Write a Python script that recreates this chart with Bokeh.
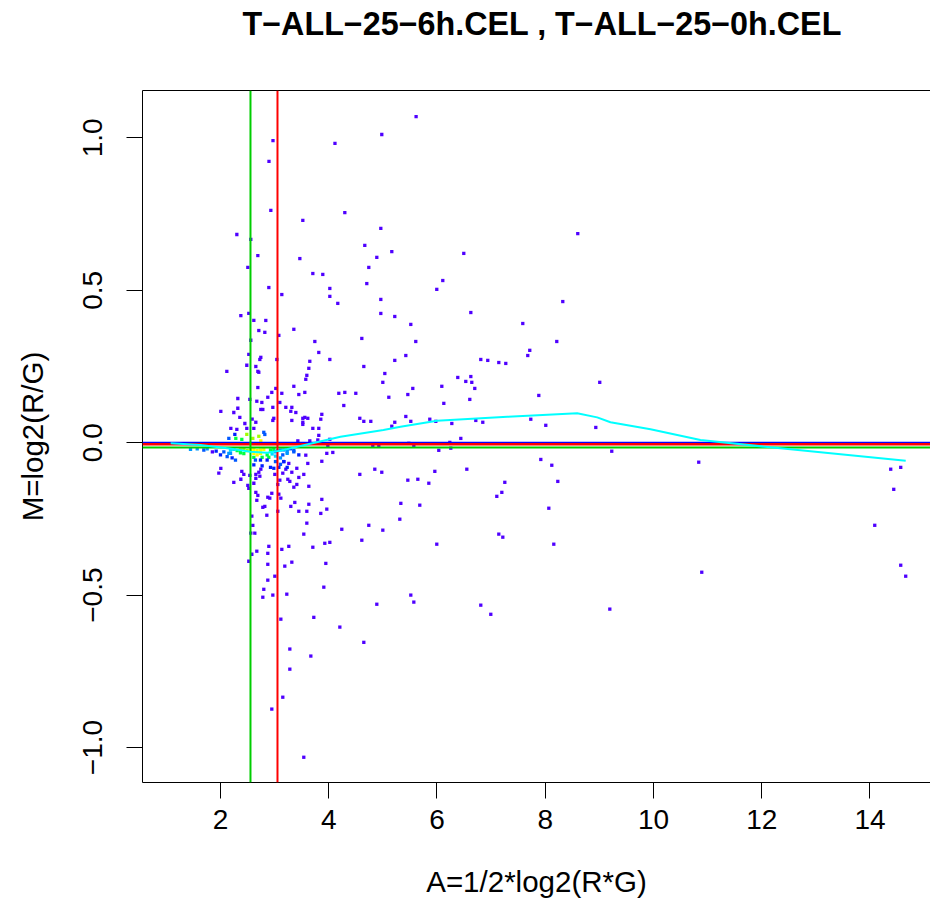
from bokeh.plotting import figure
from bokeh.models import Range1d, FixedTicker, LinearAxis, Span, ColumnDataSource, CustomJSTickFormatter, Title
from bokeh.embed import file_html
from bokeh.resources import INLINE

# ---------------- data ----------------
title_text = "T\u2212ALL\u221225\u22126h.CEL , T\u2212ALL\u221225\u22120h.CEL"
x_label = "A=1/2*log2(R*G)"
y_label = "M=log2(R/G)"
x_ticks = [2, 4, 6, 8, 10, 12, 14]
y_ticks = [-1.0, -0.5, 0.0, 0.5, 1.0]

# sparse points (lowest density)
A_sparse = [
    5.614, 4.98, 2.97, 4.115, 2.896,
    2.93, 4.297, 3.521, 2.302, 2.56, 4.962, 4.666, 5.165, 2.69, 3.466, 4.888, 2.505, 4.74, 3.706, 3.89,
    6.107, 5.996, 4.703, 2.893, 4.02, 3.133, 4.02, 4.962, 4.167, 2.376, 2.523, 4.962, 5.22, 2.616, 2.837,
    5.516, 2.708, 2.819, 3.355, 3.078, 4.611, 2.56, 5.608, 3.743, 3.816, 2.523, 2.745, 2.727, 3.041, 5.424,
    3.65, 4.02, 5.22, 2.486, 2.653, 4.648, 2.117, 2.69, 2.708, 3.632, 5.036, 3.595, 3.576, 4.999, 2.69,
    3.355, 3.022, 6.089, 2.948, 3.133, 3.558, 3.447, 4.186, 4.297, 4.5, 5.553, 5.461, 2.32, 2.542, 2.874,
    2.671, 2.764, 3.096, 5.11, 6.126, 2.32, 2.745, 2.782, 2.967, 3.207, 3.318, 4.278, 2.006, 2.246, 3.299,
    3.392, 2.357, 2.585, 2.985, 2.967, 3.318, 3.521, 3.558, 3.613, 3.853, 3.872, 4.574, 4.648, 4.777, 5.424,
    5.516, 5.867, 5.978, 2.45, 2.653, 3.521, 3.521, 5.22, 2.191, 2.302, 2.486, 2.616, 3.706, 3.816, 5.165,
    8.601, 6.495, 6.625, 8.324, 7.585, 8.213, 7.714, 7.677, 6.809, 6.938, 7.142, 7.271, 6.384, 6.625, 6.532,
    6.643, 6.698, 9.007, 7.881, 6.606, 6.717, 6.846, 6.274, 7.733, 8.01, 8.934,
    6.237, 6.255, 6.44, 9.229, 7.918, 8.121, 10.836, 6.551, 7.253, 8.232, 7.198, 7.105, 8.066, 7.142, 7.216,
    8.158, 6.809, 6.994, 9.193,
    10.892, 14.383, 14.568, 14.439, 14.088, 14.568, 14.66,
    3.816, 4.02, 3.65, 3.798, 3.429, 3.983, 4.814, 4.925, 5.479, 5.572, 6.033,
    1.969, 2.006, 2.246, 2.394, 2.431, 2.376, 2.505, 2.523, 2.542, 2.653, 2.616, 2.653, 2.727, 2.708, 2.745,
    3.004, 3.151, 3.096, 3.244, 3.281, 3.318, 3.207, 3.41, 3.539, 3.447, 3.632, 3.355, 3.41, 3.059, 3.613,
    3.576, 3.872, 3.964, 4.075, 4.574, 4.851, 4.98, 5.461, 5.646, 5.849, 5.96,
    2.653, 2.69, 2.671, 2.782, 2.819, 2.874, 2.911, 2.948, 3.078, 3.115, 3.373, 3.299, 3.447, 3.595, 3.632,
    3.059, 2.856, 2.579, 2.597, 2.56, 2.634, 3.539, 3.595, 3.872, 3.964, 3.853, 4.241, 4.74, 4.999, 4.611,
    4.02, 3.927, 3.706, 3.262, 3.133, 2.893, 2.671, 2.579, 2.874, 2.523, 2.874, 3.188, 3.318, 3.946, 5.313,
    5.332, 5.682, 5.996, 3.004, 2.874, 2.8, 2.967, 2.782, 3.225, 3.909, 5.516, 5.572, 4.888, 3.724, 4.205,
    4.648, 3.115, 3.281, 3.669, 3.281, 3.151, 2.948, 3.539,
    3.262, 3.17, 1.85,
]
M_sparse = [
    1.070, 1.011, 0.991, 0.982, 0.923,
    0.762, 0.755, 0.729, 0.683, 0.667, 0.703, 0.647, 0.627, 0.614, 0.604, 0.608, 0.575, 0.575, 0.555, 0.552,
    0.532, 0.503, 0.522, 0.509, 0.506, 0.486, 0.48, 0.47, 0.457, 0.417, 0.424, 0.424, 0.414, 0.401, 0.401,
    0.388, 0.368, 0.362, 0.372, 0.352, 0.342, 0.336, 0.332, 0.332, 0.296, 0.29, 0.28, 0.273, 0.273, 0.286,
    0.267, 0.273, 0.27, 0.254, 0.25, 0.25, 0.234, 0.234, 0.231, 0.244, 0.227, 0.221, 0.208, 0.198, 0.181,
    0.185, 0.178, 0.185, 0.165, 0.162, 0.165, 0.158, 0.162, 0.165, 0.162, 0.178, 0.158, 0.145, 0.142, 0.149,
    0.136, 0.132, 0.132, 0.149, 0.129, 0.113, 0.109, 0.109, 0.116, 0.116, 0.116, 0.122, 0.103, 0.099, 0.103,
    0.099, 0.083, 0.077, 0.08, 0.073, 0.073, 0.08, 0.083, 0.08, 0.077, 0.093, 0.08, 0.07, 0.07, 0.086,
    0.07, 0.077, 0.07, 0.063, 0.067, 0.067, 0.06, 0.067, 0.047, 0.044, 0.047, 0.047, 0.047, 0.047, 0.054,
    0.686, 0.621, 0.427, 0.463, 0.391, 0.332, 0.303, 0.286, 0.273, 0.27, 0.263, 0.26, 0.214, 0.217, 0.201,
    0.198, 0.178, 0.198, 0.155, 0.142, 0.073, 0.067, 0.063, 0.077, 0.057, 0.05,
    0.001, -0.018, 0.014, -0.028, -0.055, -0.074, -0.064, -0.087, -0.13, -0.127, -0.163, -0.176, -0.215, -0.3, -0.31,
    -0.333, -0.533, -0.563, -0.546,
    -0.425, -0.087, -0.081, -0.153, -0.271, -0.402, -0.438,
    0.024, 0.011, 0.006, 0.009, 0.006, -0.009, -0.009, -0.009, -0.002, -0.009, -0.025,
    -0.1, -0.084, -0.13, -0.094, -0.104, -0.12, -0.14, -0.15, -0.107, -0.117, -0.133, -0.104, -0.11, -0.097, -0.087,
    -0.104, -0.1, -0.123, -0.12, -0.127, -0.097, -0.087, -0.084, -0.104, -0.114, -0.143, -0.146, -0.137, -0.137, -0.068,
    -0.041, -0.061, -0.035, -0.032, -0.104, -0.087, -0.097, -0.123, -0.12, -0.133, -0.094,
    -0.163, -0.173, -0.189, -0.212, -0.209, -0.179, -0.182, -0.166, -0.169, -0.182, -0.196, -0.209, -0.225, -0.225, -0.202,
    -0.225, -0.238, -0.241, -0.271, -0.297, -0.297, -0.3, -0.264, -0.186, -0.218, -0.232, -0.284, -0.271, -0.287, -0.32,
    -0.327, -0.33, -0.343, -0.34, -0.35, -0.34, -0.356, -0.366, -0.363, -0.389, -0.399, -0.405, -0.392, -0.396, -0.251,
    -0.199, -0.205, -0.333, -0.438, -0.451, -0.481, -0.5, -0.507, -0.497, -0.474, -0.5, -0.523, -0.53, -0.573, -0.605,
    -0.655, -0.579, -0.677, -0.7, -0.743, -0.835, -0.874, -1.032,
    -0.068, -0.062, -0.03,
]

# dense core points with their density class (0 = sparse ... 7 = densest)
A_core = [
    2.154, 2.265, 2.283, 2.394, 2.486, 2.597, 2.708, 2.8, 2.819, 2.745,
    1.446, 1.57, 1.692, 1.754, 2.185, 2.246, 2.308, 2.369, 2.431, 2.493, 2.554, 2.616, 2.677, 2.739, 2.8,
    2.924, 2.985, 3.047, 3.17, 3.232, 3.293,
    2.185, 2.369, 2.431, 2.616, 2.739, 2.677, 2.862, 2.954, 3.232, 3.355,
    2.616, 2.769, 2.893, 3.016, 3.108, 2.646, 2.739, 2.862, 3.016, 3.17,
    2.616, 2.769, 2.924, 2.985, 3.078, 3.108, 3.232,
    3.016, 3.108, 3.232, 2.123, 2.215, 2.277, 2.154, 2.062, 2.0, 1.92,
    3.151, 3.355, 3.447,
]
M_core = [
    0.014, 0.027, 0.014, 0.011, 0.027, 0.014, 0.021, 0.034, 0.027, 0.006,
    -0.022, -0.02, -0.024, -0.02, -0.024, -0.022, -0.026, -0.024, -0.022, -0.026, -0.024, -0.022, -0.026, -0.024, -0.022,
    -0.024, -0.022, -0.026, -0.024, -0.022, -0.02,
    -0.035, -0.033, -0.036, -0.035, -0.035, -0.04, -0.04, -0.037, -0.035, -0.03,
    -0.048, -0.048, -0.048, -0.044, -0.05, -0.057, -0.057, -0.057, -0.062, -0.062,
    -0.073, -0.076, -0.081, -0.084, -0.081, -0.071, -0.081,
    -0.03, -0.024, -0.03, -0.046, -0.05, -0.057, -0.035, -0.03, -0.04, -0.028,
    -0.04, -0.026, -0.04,
]
core_class = [
    2, 1, 5, 5, 6, 6, 6, 2, 2, 7,
    3, 3, 2, 3, 4, 4, 5, 6, 6, 6, 7, 7, 7, 7, 7,
    5, 5, 4, 3, 3, 2,
    3, 5, 5, 7, 7, 7, 5, 4, 3, 2,
    5, 5, 5, 4, 3, 2, 1, 1, 2, 1,
    1, 1, 1, 1, 1, 2, 1,
    3, 3, 3, 2, 1, 2, 3, 2, 1, 1,
    2, 2, 1,
]

# loess fit curve
loess_A = [1.08, 1.63, 2.2, 2.554, 2.863, 3.109, 3.478, 4.217, 5.01, 5.326, 6.0, 7.3, 8.59, 8.96, 9.205, 9.945,
           10.868, 12.16, 14.66]
loess_M = [-0.002, -0.0075, -0.02, -0.0295, -0.0328, -0.026, -0.011, 0.0197, 0.0416, 0.0525, 0.072, 0.085, 0.0964,
           0.083, 0.0669, 0.0439, 0.0089, -0.0151, -0.059]

v_green = 2.554
v_red = 3.053
h_blue = 0.0
h_red = -0.005
h_green = -0.016

# ---------------- styling ----------------
palette = ["#4F00FF", "#0020FF", "#0058FF", "#0098FF", "#00DCFF", "#00FF40", "#A0FF00", "#FFFF00"]
FONT = "Liberation Sans"

p = figure(frame_width=788, frame_height=692, min_border_left=142, min_border_right=0,
           min_border_top=90, min_border_bottom=134,
           x_range=Range1d(0.559, 15.118), y_range=Range1d(-1.1148, 1.1554),
           output_backend="svg", toolbar_location=None, tools="")
p.background_fill_color = "white"
p.border_fill_color = "white"
p.outline_line_color = None
p.grid.visible = False

for ax in (p.xaxis[0], p.yaxis[0]):
    ax.axis_line_color = "black"
    ax.axis_line_width = 1
    ax.major_tick_line_color = "black"
    ax.major_tick_out = 16
    ax.major_tick_in = 0
    ax.minor_tick_line_color = None
    ax.major_label_text_font = FONT
    ax.major_label_text_font_size = "28px"
    ax.major_label_text_color = "black"
    ax.axis_label_text_font = FONT
    ax.axis_label_text_font_size = "29.5px"
    ax.axis_label_text_font_style = "normal"
    ax.axis_label_text_color = "black"

p.xaxis.ticker = FixedTicker(ticks=x_ticks)
p.yaxis.ticker = FixedTicker(ticks=y_ticks)
p.yaxis.formatter = CustomJSTickFormatter(code="return tick.toFixed(1).replace('-', '\u2212');")
p.yaxis.major_label_orientation = "vertical"
p.xaxis.axis_label = x_label
p.yaxis.axis_label = y_label
p.xaxis.major_label_standoff = 11
p.yaxis.major_label_standoff = 24
p.xaxis.axis_label_standoff = 33
p.yaxis.axis_label_standoff = 32

# top border of the box (axis line only); its invisible label just reserves space under the title
top = LinearAxis(ticker=FixedTicker(ticks=[]), axis_line_color="black", major_tick_line_color=None,
                 minor_tick_line_color=None, major_tick_out=0, minor_tick_out=0, major_label_standoff=0,
                 major_label_text_font_size="0px", axis_label=".", axis_label_text_font_size="10px",
                 axis_label_text_alpha=0, axis_label_standoff=38)
p.add_layout(top, "above")

p.add_layout(Title(text=title_text, align="left", offset=100, standoff=0, vertical_align="bottom",
                   text_font=FONT, text_font_size="32.3px", text_font_style="bold", text_color="black"),
             "above")

# points
cols = [palette[0]] * len(A_sparse) + [palette[c] for c in core_class]
src = ColumnDataSource(dict(x=list(A_sparse) + list(A_core), y=list(M_sparse) + list(M_core), c=cols))
p.scatter("x", "y", source=src, marker="square", size=3.3, fill_color="c", line_color=None)

# reference lines
for yv, col, w in ((h_blue, "#0000FF", 2), (h_red, "#FF0000", 2.5), (h_green, "#00CD00", 2)):
    p.add_layout(Span(location=yv, dimension="width", line_color=col, line_width=w))
for xv, col, w in ((v_green, "#00CD00", 2), (v_red, "#FF0000", 2)):
    p.add_layout(Span(location=xv, dimension="height", line_color=col, line_width=w))

r = p.line(loess_A, loess_M, line_color="#00FFFF", line_width=2)
r.level = "overlay"

open("out.html", "w").write(file_html(p, INLINE))
